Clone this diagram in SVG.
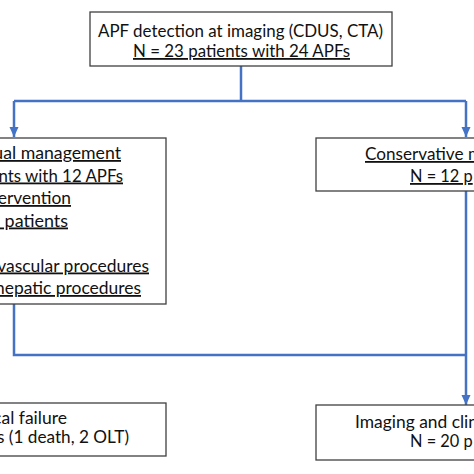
<svg xmlns="http://www.w3.org/2000/svg" width="474" height="474" viewBox="0 0 474 474">
<defs>
<style>
.box{fill:#ffffff;stroke:#404040;stroke-width:1.3}
.t{font-family:Lato,"Liberation Sans",sans-serif;font-size:18px;fill:#111111}
.u{text-decoration:underline}
.c{fill:none;stroke:#4472C4;stroke-width:2.5}
</style>
<marker id="ah" markerUnits="userSpaceOnUse" markerWidth="10" markerHeight="10" viewBox="0 0 10 10" refX="10" refY="5" orient="auto">
<path d="M0,0.5 L10,5 L0,9.5 Z" fill="#4472C4"/>
</marker>
</defs>
<rect x="0" y="0" width="474" height="474" fill="#ffffff"/>
<g id="connectors">
<path class="c" d="M241,66 V101"/>
<path class="c" d="M14,101 H466"/>
<path class="c" d="M14,101 V137" marker-end="url(#ah)"/>
<path class="c" d="M466,101 V137" marker-end="url(#ah)"/>
<path class="c" d="M14,304 V355 H466"/>
<path class="c" d="M466,191 V405" marker-end="url(#ah)"/>
</g>
<g id="detection">
<rect class="box" x="90" y="12" width="302" height="54"/>
<text class="t" x="98" y="36.5" textLength="285" lengthAdjust="spacingAndGlyphs">APF detection at imaging (CDUS, CTA)</text>
<text class="t u" x="133" y="57" textLength="217" lengthAdjust="spacingAndGlyphs">N = 23 patients with 24 APFs</text>
</g>
<g id="interventional">
<rect class="box" x="-5" y="138" width="171" height="166"/>
<text class="t u" x="-6.7" y="159" textLength="127.7" lengthAdjust="spacingAndGlyphs">ual management</text>
<text class="t u" x="-1.5" y="181.5" textLength="124.5" lengthAdjust="spacingAndGlyphs">nts with 12 APFs</text>
<text class="t u" x="-2.2" y="204" textLength="73.2" lengthAdjust="spacingAndGlyphs">ervention</text>
<text class="t u" x="0" y="226.5" textLength="68" lengthAdjust="spacingAndGlyphs" xml:space="preserve"> patients</text>
<text class="t u" x="-2.8" y="271.5" textLength="151.8" lengthAdjust="spacingAndGlyphs">vascular procedures</text>
<text class="t u" x="-5" y="294" textLength="146" lengthAdjust="spacingAndGlyphs">hepatic procedures</text>
</g>
<g id="conservative">
<rect class="box" x="316" y="138" width="170" height="53"/>
<text class="t u" x="365" y="160" textLength="117" lengthAdjust="spacingAndGlyphs">Conservative m</text>
<text class="t u" x="410" y="182" textLength="62.7" lengthAdjust="spacingAndGlyphs">N = 12 p</text>
</g>
<g id="failure">
<rect class="box" x="-5" y="403" width="171" height="53"/>
<text class="t" x="-6.9" y="424" textLength="73.9" lengthAdjust="spacingAndGlyphs">cal failure</text>
<text class="t" x="-3" y="442.5" textLength="132" lengthAdjust="spacingAndGlyphs">s (1 death, 2 OLT)</text>
</g>
<g id="followup">
<rect class="box" x="316" y="405" width="170" height="55"/>
<text class="t" x="355" y="428" textLength="123" lengthAdjust="spacingAndGlyphs">Imaging and clin</text>
<text class="t" x="410" y="446.5" textLength="62.7" lengthAdjust="spacingAndGlyphs">N = 20 p</text>
</g>
</svg>
